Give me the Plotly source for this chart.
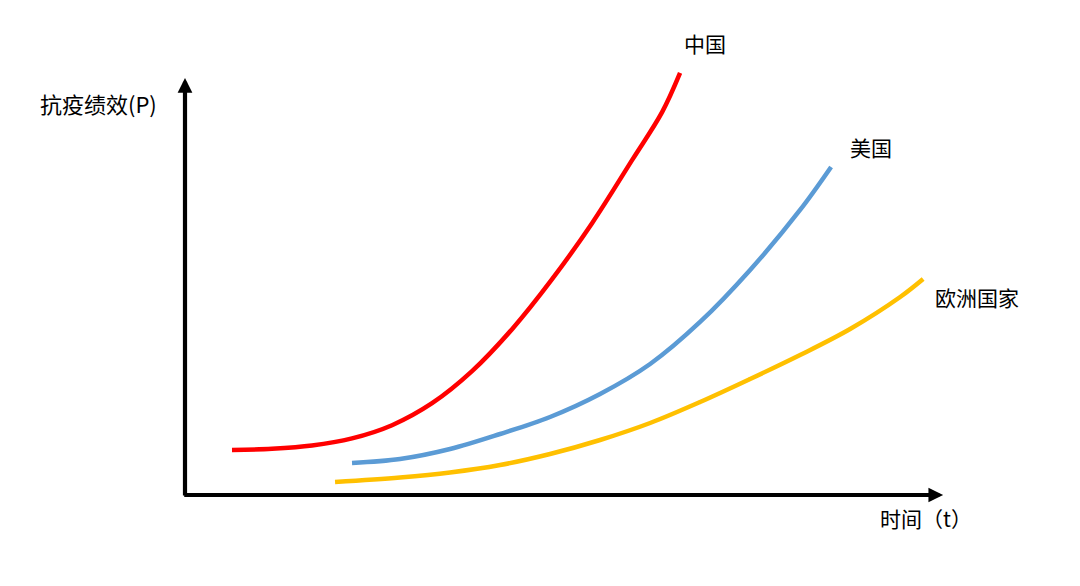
import plotly.graph_objects as go

# Data (time t vs. anti-epidemic performance P), arbitrary units
china_t = [6.20, 11.48, 16.75, 22.03, 27.31, 32.59, 37.86, 43.14, 48.42, 53.69, 58.97, 62.93, 65.30]
china_p = [10.79, 11.08, 11.85, 13.57, 16.74, 22.01, 29.69, 39.76, 51.75, 65.18, 80.29, 91.80, 101.20]

usa_t = [22.03, 28.36, 34.96, 41.56, 48.15, 54.75, 61.35, 67.94, 74.54, 81.13, 85.22]
usa_p = [7.67, 8.63, 11.03, 14.63, 18.71, 24.22, 31.41, 41.49, 53.96, 68.35, 78.66]

europe_t = [19.79, 28.36, 34.96, 41.56, 48.15, 54.75, 61.35, 67.94, 74.54, 81.13, 87.73, 94.33, 97.36]
europe_p = [3.12, 4.20, 5.40, 7.19, 9.83, 13.19, 17.27, 22.30, 27.82, 33.57, 39.81, 47.48, 51.80]

series_names = ["中国", "美国", "欧洲国家"]
x_title = "时间（t）"
y_title = "抗疫绩效(P)"

FONT = "Noto Sans CJK SC"

fig = go.Figure()
fig.add_trace(go.Scatter(x=china_t, y=china_p, mode="lines", name=series_names[0],
                         line=dict(color="#FF0000", width=4.5, shape="spline", smoothing=1.0)))
fig.add_trace(go.Scatter(x=usa_t, y=usa_p, mode="lines", name=series_names[1],
                         line=dict(color="#5B9BD5", width=4.5, shape="spline", smoothing=1.0)))
fig.add_trace(go.Scatter(x=europe_t, y=europe_p, mode="lines", name=series_names[2],
                         line=dict(color="#FFC000", width=4.5, shape="spline", smoothing=1.0)))

annotations = [
    # axes with arrowheads
    dict(x=100, y=0, ax=-0.3, ay=0, xref="x", yref="y", axref="x", ayref="y",
         showarrow=True, arrowhead=2, arrowsize=0.7, arrowwidth=4.2, arrowcolor="black",
         standoff=0, startstandoff=0, text=""),
    dict(x=0, y=100, ax=0, ay=-0.5, xref="x", yref="y", axref="x", ayref="y",
         showarrow=True, arrowhead=2, arrowsize=0.7, arrowwidth=4.2, arrowcolor="black",
         standoff=0, startstandoff=0, text=""),
    # labels
    dict(x=68.6, y=108.4, text=series_names[0], showarrow=False, xanchor="center", yanchor="middle",
         font=dict(family=FONT, size=21, color="black")),
    dict(x=90.5, y=83.5, text=series_names[1], showarrow=False, xanchor="center", yanchor="middle",
         font=dict(family=FONT, size=21, color="black")),
    dict(x=104.5, y=47.5, text=series_names[2], showarrow=False, xanchor="center", yanchor="middle",
         font=dict(family=FONT, size=21, color="black")),
    dict(x=0.909, y=-0.049, xref="paper", yref="paper", text=x_title, showarrow=False,
         xanchor="center", yanchor="middle", font=dict(family=FONT, size=21, color="black")),
    dict(x=-0.106, y=0.843, xref="paper", yref="paper", text=y_title, showarrow=False,
         xanchor="center", yanchor="middle", font=dict(family=FONT, size=22, color="black")),
]

fig.update_layout(
    width=1080, height=586,
    margin=dict(l=177, r=88, t=22, b=99, autoexpand=False),
    paper_bgcolor="white", plot_bgcolor="white",
    showlegend=False,
    xaxis=dict(range=[0, 107.5], visible=False),
    yaxis=dict(range=[0, 111.5], visible=False),
    annotations=annotations,
)

fig.write_html("out.html")
